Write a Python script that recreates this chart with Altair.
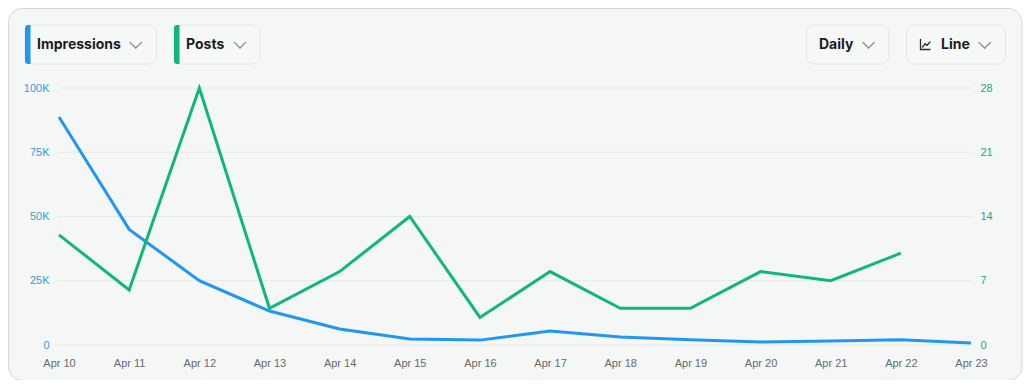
import altair as alt
import pandas as pd

# ---- data ----
dates = ["Apr 10", "Apr 11", "Apr 12", "Apr 13", "Apr 14", "Apr 15", "Apr 16",
         "Apr 17", "Apr 18", "Apr 19", "Apr 20", "Apr 21", "Apr 22", "Apr 23"]
impressions = [88700, 45000, 25000, 13200, 6200, 2300, 1900,
               5400, 3100, 2000, 1200, 1600, 2000, 800]
posts = [12, 6, 28, 4, 8, 14, 3, 8, 4, 4, 8, 7, 10, None]

imp_ticks = [0, 25000, 50000, 75000, 100000]
post_ticks = [0, 7, 14, 21, 28]

BLUE = "#2196f3"
GREEN = "#10b77a"
CARD_BG = "#f5f7f7"
CARD_BORDER = "#d3d8d8"
BTN_BORDER = "#e2e6e6"
BTN_BG = "#f6f8f8"
TXT = "#1d1d1f"
CHEV = "#8a8f91"

# plot origin on page (after 8px body margin): (59, 88)
OX, OY = 59, 88
def px(x):
    return x - OX
def py(y):
    return y - OY

df = pd.DataFrame({"date": dates, "impressions": impressions, "posts": posts})
grid_df = pd.DataFrame({"v": imp_ticks})
dummy = pd.DataFrame({"k": [0]})

def rect(x1, x2, y1, y2, **kw):
    return alt.Chart(dummy).mark_rect(**kw).encode(
        x=alt.value(px(x1)), x2=alt.value(px(x2)),
        y=alt.value(py(y1)), y2=alt.value(py(y2)))

def seg(x1, y1, x2, y2, color=CHEV, w=1.3):
    return alt.Chart(dummy).mark_rule(color=color, strokeWidth=w, strokeCap="round").encode(
        x=alt.value(px(x1)), x2=alt.value(px(x2)),
        y=alt.value(py(y1)), y2=alt.value(py(y2)))

def label(x, y, s, size=14):
    return alt.Chart(dummy).mark_text(
        align="left", baseline="middle", font="Inter", fontWeight="bold",
        fontSize=size, color=TXT).encode(
        x=alt.value(px(x)), y=alt.value(py(y)), text=alt.value(s))

def chevron(x1, x2, yt=42.5, yb=48):
    xm = (x1 + x2) / 2
    return [seg(x1, yt, xm, yb), seg(xm, yb, x2, yt)]

layers = []
# card
layers.append(rect(8.5, 1022, 8.5, 380.5, fill=CARD_BG, stroke=CARD_BORDER,
                   strokeWidth=1, cornerRadius=14))

# buttons: (x1, x2, accent, text, text_x, chevron_x1, chevron_x2)
buttons = [
    (25, 156.5, BLUE, "Impressions", 37, 130, 141.5),
    (174, 260, GREEN, "Posts", 186, 234.5, 245.5),
    (806.5, 889, None, "Daily", 819, 863, 874),
    (906.5, 1005.5, None, "Line", 941, 979, 990.5),
]
for (x1, x2, acc, t, tx, c1, c2) in buttons:
    layers.append(rect(x1, x2, 25, 64, fill=BTN_BG, stroke=BTN_BORDER,
                       strokeWidth=1, cornerRadius=8))
    if acc:
        layers.append(rect(x1, x1 + 5.5, 25, 64, fill=acc,
                           cornerRadiusTopLeft=7, cornerRadiusBottomLeft=7))
    layers.append(label(tx, 45, t))
    layers += chevron(c1, c2)

# line icon
ICON = "#2a2d2f"
layers += [
    seg(920.5, 39.5, 920.5, 49.5, ICON, 1.3),
    seg(920.5, 49.5, 930, 49.5, ICON, 1.3),
    seg(922.5, 47, 925, 43.8, ICON, 1.3),
    seg(925, 43.8, 927, 45.3, ICON, 1.3),
    seg(927, 45.3, 930, 42, ICON, 1.3),
]

imp_scale = alt.Scale(domain=[0, 100000])

# gridlines (drawn above the card, below the lines)
grid = alt.Chart(grid_df).mark_rule(color="#e6e9e9", strokeWidth=1).encode(
    y=alt.Y("v:Q", scale=imp_scale, axis=None),
    x=alt.value(-1), x2=alt.value(913),
)

base = alt.Chart(df).encode(
    x=alt.X("date:O", sort=None, scale=alt.Scale(padding=0), title=None,
            axis=alt.Axis(labelAngle=0, ticks=False, domain=False, grid=False, zindex=1,
                          labelPadding=12, labelColor="#666a6d", labelFontSize=11,
                          labelFont="Liberation Sans"))
)

imp_line = base.mark_line(color=BLUE, strokeWidth=3).encode(
    y=alt.Y("impressions:Q", scale=imp_scale, title=None,
            axis=alt.Axis(values=imp_ticks, orient="left", ticks=False, domain=False,
                          grid=False, zindex=1,
                          labelColor="#3a9ae0", labelFontSize=11, labelPadding=10,
                          labelFont="Liberation Sans",
                          labelExpr="datum.value == 0 ? '0' : (datum.value / 1000) + 'K'"))
)

post_line = base.mark_line(color=GREEN, strokeWidth=3).encode(
    y=alt.Y("posts:Q", scale=alt.Scale(domain=[0, 28]), title=None,
            axis=alt.Axis(values=post_ticks, orient="right", ticks=False, domain=False,
                          grid=False, zindex=1, labelColor="#22a877", labelFontSize=11,
                          labelPadding=9, labelFont="Liberation Sans"))
)

layers += [grid, imp_line, post_line]

chart = alt.layer(*layers).resolve_scale(y="independent").properties(
    width=912, height=257,
    padding={"left": 51, "top": 80, "right": 53, "bottom": 35},
    autosize=alt.AutoSizeParams(type="none"),
    background="white",
).configure_view(stroke=None)

chart.save("out.html", embed_options={"renderer": "svg", "actions": False})
